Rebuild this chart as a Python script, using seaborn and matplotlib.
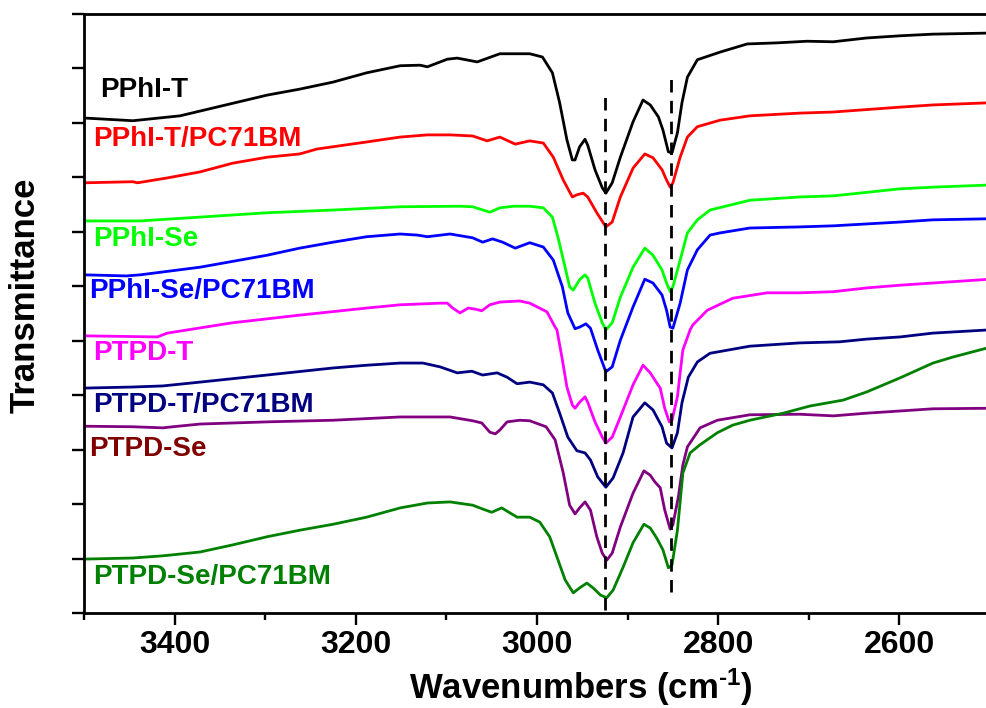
import matplotlib
matplotlib.use("Agg")
import matplotlib.pyplot as plt
import seaborn as sns
import numpy as np
import pandas as pd
from matplotlib.ticker import MultipleLocator

sns.set_theme(style="ticks")
plt.rcParams['font.family'] = ['Liberation Sans', 'DejaVu Sans']
plt.rcParams['mathtext.fontset'] = 'custom'
plt.rcParams['mathtext.rm'] = 'Liberation Sans:bold'
plt.rcParams['mathtext.it'] = 'Liberation Sans:bold'
plt.rcParams['mathtext.bf'] = 'Liberation Sans:bold'
plt.rcParams['mathtext.default'] = 'rm'
for k in ['text.color', 'axes.edgecolor', 'axes.labelcolor', 'xtick.color', 'ytick.color',
          'xtick.labelcolor', 'ytick.labelcolor']:
    plt.rcParams[k] = 'black'

# ---------------- data (wavenumber cm-1, offset transmittance a.u.) ----------------
wn_pphi_t = [3500, 3446, 3394, 3298, 3262, 3225, 3188, 3151, 3129, 3121, 3099, 3088, 3066, 3041, 3008, 2994,
             2983, 2975, 2967, 2961, 2958, 2953, 2947, 2944, 2936, 2928, 2924, 2917, 2908, 2894, 2883, 2875,
             2866, 2861, 2855, 2851, 2845, 2840, 2834, 2823, 2798, 2768, 2735, 2702, 2673, 2636, 2599, 2563, 2500]
t_pphi_t = [9.09, 9.04, 9.13, 9.51, 9.62, 9.75, 9.92, 10.05, 10.06, 10.03, 10.17, 10.19, 10.12, 10.27, 10.27, 10.21,
            9.92, 9.37, 8.69, 8.32, 8.32, 8.56, 8.70, 8.59, 8.14, 7.81, 7.71, 7.90, 8.37, 9.02, 9.42, 9.33,
            9.11, 8.87, 8.47, 8.45, 8.82, 9.37, 9.84, 10.16, 10.30, 10.45, 10.47, 10.50, 10.49, 10.56, 10.60, 10.63, 10.65]

wn_pphi_t_pc = [3500, 3446, 3441, 3408, 3372, 3336, 3298, 3262, 3243, 3188, 3151, 3121, 3096, 3071, 3055, 3041,
                3024, 3008, 2993, 2982, 2971, 2961, 2956, 2949, 2944, 2934, 2924, 2917, 2908, 2894, 2881, 2872,
                2862, 2857, 2853, 2850, 2842, 2834, 2823, 2798, 2765, 2710, 2673, 2599, 2563, 2500]
t_pphi_t_pc = [7.90, 7.92, 7.90, 7.99, 8.10, 8.26, 8.37, 8.43, 8.52, 8.65, 8.74, 8.78, 8.78, 8.76, 8.67, 8.74,
               8.61, 8.67, 8.63, 8.37, 7.95, 7.64, 7.68, 7.71, 7.64, 7.35, 7.09, 7.18, 7.64, 8.17, 8.43, 8.36,
               8.14, 7.95, 7.82, 7.90, 8.37, 8.74, 8.93, 9.05, 9.13, 9.18, 9.20, 9.29, 9.33, 9.37]

wn_pphi_se = [3500, 3438, 3372, 3298, 3225, 3151, 3085, 3071, 3052, 3041, 3026, 3008, 2993, 2983, 2977, 2969,
              2964, 2960, 2953, 2947, 2944, 2936, 2928, 2924, 2917, 2908, 2894, 2881, 2872, 2862, 2857, 2853,
              2850, 2842, 2834, 2823, 2809, 2765, 2710, 2673, 2599, 2563, 2500]
t_pphi_se = [7.20, 7.20, 7.27, 7.35, 7.40, 7.46, 7.47, 7.46, 7.36, 7.44, 7.47, 7.47, 7.44, 7.27, 6.91, 6.35,
             5.99, 5.93, 6.12, 6.21, 6.15, 5.69, 5.33, 5.20, 5.33, 5.80, 6.35, 6.70, 6.57, 6.30, 6.06, 5.90,
             5.99, 6.48, 6.98, 7.22, 7.40, 7.58, 7.64, 7.66, 7.79, 7.82, 7.86]

wn_pphi_se_pc = [3500, 3453, 3438, 3372, 3298, 3262, 3225, 3188, 3151, 3132, 3121, 3096, 3071, 3060, 3049, 3038,
                 3024, 3008, 2993, 2982, 2972, 2966, 2958, 2953, 2946, 2941, 2933, 2924, 2917, 2908, 2894, 2881,
                 2872, 2862, 2857, 2853, 2850, 2842, 2834, 2823, 2809, 2798, 2765, 2710, 2673, 2599, 2563, 2500]
t_pphi_se_pc = [6.21, 6.19, 6.21, 6.35, 6.57, 6.70, 6.81, 6.91, 6.96, 6.94, 6.91, 6.96, 6.89, 6.81, 6.87, 6.81,
                6.70, 6.80, 6.72, 6.48, 5.99, 5.51, 5.22, 5.25, 5.31, 5.23, 4.83, 4.43, 4.52, 5.01, 5.62, 6.13,
                6.06, 5.84, 5.56, 5.25, 5.23, 5.69, 6.30, 6.67, 6.94, 6.98, 7.07, 7.09, 7.11, 7.18, 7.22, 7.24]

wn_ptpd_t = [3500, 3419, 3408, 3336, 3262, 3188, 3151, 3107, 3099, 3093, 3085, 3076, 3068, 3061, 3052, 3041,
             3019, 3008, 2989, 2980, 2978, 2972, 2967, 2961, 2958, 2953, 2947, 2944, 2936, 2928, 2924, 2917,
             2908, 2894, 2883, 2875, 2870, 2864, 2859, 2854, 2851, 2845, 2842, 2839, 2831, 2828, 2812, 2784,
             2746, 2710, 2673, 2636, 2599, 2563, 2500]
t_ptpd_t = [5.09, 5.07, 5.14, 5.33, 5.47, 5.60, 5.66, 5.69, 5.69, 5.60, 5.51, 5.60, 5.58, 5.55, 5.66, 5.71,
            5.73, 5.69, 5.53, 5.25, 5.20, 4.65, 4.15, 3.82, 3.76, 3.87, 3.97, 3.87, 3.51, 3.23, 3.12, 3.23,
            3.60, 4.19, 4.55, 4.41, 4.28, 4.13, 3.76, 3.51, 3.54, 3.97, 4.41, 4.83, 5.20, 5.29, 5.56, 5.78,
            5.88, 5.88, 5.90, 5.97, 6.02, 6.06, 6.13]

wn_ptpd_t_pc = [3500, 3446, 3413, 3372, 3298, 3225, 3188, 3151, 3126, 3107, 3088, 3072, 3060, 3044, 3033, 3022,
                3008, 2993, 2983, 2975, 2966, 2956, 2947, 2941, 2933, 2924, 2916, 2905, 2894, 2881, 2872, 2862,
                2857, 2851, 2845, 2840, 2833, 2823, 2809, 2765, 2710, 2666, 2636, 2599, 2563, 2500]
t_ptpd_t_pc = [4.13, 4.15, 4.17, 4.24, 4.37, 4.50, 4.55, 4.59, 4.59, 4.52, 4.41, 4.44, 4.37, 4.41, 4.33, 4.21,
               4.24, 4.19, 4.04, 3.67, 3.23, 2.98, 2.94, 2.81, 2.50, 2.31, 2.48, 2.94, 3.60, 3.86, 3.73, 3.42,
               3.12, 3.03, 3.31, 3.86, 4.33, 4.61, 4.77, 4.90, 4.96, 4.98, 5.03, 5.07, 5.14, 5.20]

wn_ptpd_se = [3500, 3446, 3413, 3402, 3372, 3298, 3225, 3151, 3096, 3071, 3061, 3052, 3046, 3041, 3033, 3019,
              3008, 2990, 2980, 2971, 2964, 2958, 2953, 2947, 2941, 2934, 2928, 2923, 2917, 2908, 2894, 2882,
              2875, 2870, 2864, 2859, 2853, 2850, 2844, 2839, 2834, 2820, 2801, 2765, 2710, 2673, 2636, 2599,
              2563, 2500]
t_ptpd_se = [3.43, 3.42, 3.40, 3.42, 3.47, 3.51, 3.54, 3.60, 3.60, 3.53, 3.49, 3.32, 3.29, 3.36, 3.51, 3.54,
             3.53, 3.42, 3.18, 2.57, 1.98, 1.82, 1.93, 2.04, 1.89, 1.40, 1.10, 0.97, 1.10, 1.58, 2.20, 2.61,
             2.53, 2.41, 2.30, 1.89, 1.54, 1.62, 2.13, 2.72, 3.05, 3.40, 3.54, 3.64, 3.65, 3.62, 3.67, 3.71,
             3.75, 3.76]

wn_ptpd_se_pc = [3500, 3446, 3413, 3372, 3336, 3298, 3262, 3225, 3188, 3151, 3121, 3096, 3071, 3060, 3050, 3039,
                 3022, 3008, 2997, 2986, 2978, 2969, 2960, 2953, 2945, 2938, 2930, 2923, 2916, 2905, 2894, 2882,
                 2875, 2868, 2861, 2855, 2851, 2845, 2839, 2831, 2820, 2801, 2784, 2765, 2728, 2699, 2662, 2636,
                 2599, 2563, 2541, 2500]
t_ptpd_se_pc = [0.99, 1.01, 1.05, 1.12, 1.25, 1.40, 1.52, 1.63, 1.76, 1.93, 2.02, 2.04, 1.98, 1.91, 1.85, 1.93,
                1.76, 1.76, 1.67, 1.40, 1.03, 0.61, 0.37, 0.46, 0.55, 0.46, 0.33, 0.28, 0.42, 0.84, 1.29, 1.63,
                1.56, 1.38, 1.16, 0.83, 0.88, 1.52, 2.57, 2.94, 3.09, 3.31, 3.45, 3.54, 3.67, 3.80, 3.91, 4.06,
                4.32, 4.59, 4.70, 4.88]

names = ["PPhI-T", "PPhI-T/PC71BM", "PPhI-Se", "PPhI-Se/PC71BM",
         "PTPD-T", "PTPD-T/PC71BM", "PTPD-Se", "PTPD-Se/PC71BM"]
line_colors = ["#000000", "#FF0000", "#00FF00", "#0000FF", "#FF00FF", "#000080", "#800080", "#008000"]
label_colors = ["#000000", "#FF0000", "#00FF00", "#0000FF", "#FF00FF", "#000080", "#800000", "#008000"]
label_y = [9.60, 8.70, 6.87, 5.91, 4.78, 3.82, 3.01, 0.66]
label_x = [3482, 3490, 3490, 3494, 3490, 3490, 3494, 3490]

peak_wn = [2925, 2852]
peak_ymin = [0.05, 0.39]
peak_ymax = [9.60, 9.94]

series = [(wn_pphi_t, t_pphi_t), (wn_pphi_t_pc, t_pphi_t_pc), (wn_pphi_se, t_pphi_se),
          (wn_pphi_se_pc, t_pphi_se_pc), (wn_ptpd_t, t_ptpd_t), (wn_ptpd_t_pc, t_ptpd_t_pc),
          (wn_ptpd_se, t_ptpd_se), (wn_ptpd_se_pc, t_ptpd_se_pc)]

frames = []
for n, (w, t) in zip(names, series):
    frames.append(pd.DataFrame({"wn": w, "T": t, "sample": n}))
df = pd.concat(frames, ignore_index=True)

# ---------------- figure ----------------
fig = plt.figure(figsize=(9.86, 7.08), dpi=100)
ax = fig.add_axes([84 / 986, (708 - 613) / 708, 906 / 986, 599 / 708])

sns.lineplot(data=df, x="wn", y="T", hue="sample", hue_order=names,
             palette=dict(zip(names, line_colors)), estimator=None, sort=True,
             linewidth=2.0, legend=False, ax=ax)
for ln in ax.lines:
    ln.set_solid_joinstyle("round")
    ln.set_solid_capstyle("round")

for xv, y0, y1 in zip(peak_wn, peak_ymin, peak_ymax):
    ax.plot([xv, xv], [y0, y1], color="black", linestyle=(0, (4.5, 3)), linewidth=2.0)

for n, c, xl, yl in zip(names, label_colors, label_x, label_y):
    ax.text(xl, yl, n, color=c, fontsize=20, fontweight="bold", ha="left", va="center")

ax.set_xlim(3500, 2500)
ax.set_ylim(0, 11)
ax.xaxis.set_major_locator(MultipleLocator(200))
ax.xaxis.set_minor_locator(MultipleLocator(100))
ax.yaxis.set_major_locator(MultipleLocator(1))
ax.set_yticklabels([])
ax.tick_params(axis="both", which="major", direction="out", length=8.5, width=1.7,
               labelsize=23, top=False, right=False, colors="black")
ax.tick_params(axis="x", which="minor", direction="out", length=5, width=1.7, top=False, colors="black")
for lab in ax.get_xticklabels():
    lab.set_fontweight("bold")
for sp in ax.spines.values():
    sp.set_linewidth(2.0)
    sp.set_color("black")
    sp.set_visible(True)

ax.set_xlabel("Wavenumbers (cm$^{\\text{-1}}$)", fontsize=25, fontweight="bold")
ax.xaxis.set_label_coords((581 - 84) / 906, (613 - 667) / 599)
ax.set_ylabel("Transmittance", fontsize=25, fontweight="bold")
ax.yaxis.set_label_coords((30 - 84) / 906 - 0.005, (613 - 295) / 599)
ax.yaxis.label.set_va("center")

fig.savefig("out.png", dpi=100)
